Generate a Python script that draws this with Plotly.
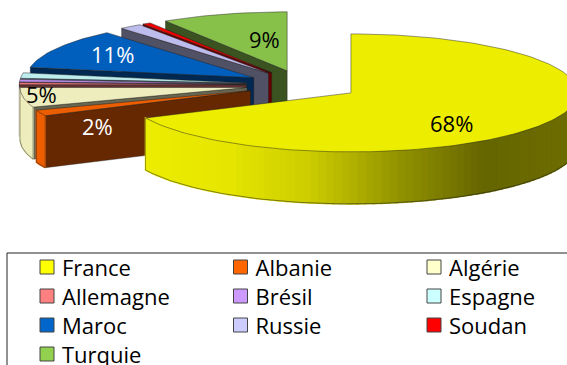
import numpy as np
import plotly.graph_objects as go

countries = ["France", "Albanie", "Algérie", "Allemagne", "Brésil", "Espagne", "Maroc", "Russie", "Soudan", "Turquie"]
shares = [68, 1.6, 5.4, 0.6, 0.7, 1.5, 11, 1.6, 0.6, 9]
labels = ["68%", "2%", "5%", "", "", "", "11%", "", "", "9%"]
colors = ["#FFFF00", "#FF6600", "#FFFFCC", "#FF8080", "#CC99FF", "#CCFFFF", "#0066CC", "#CCCCFF", "#FF0000", "#92D050"]
label_colors = ["black", "white", "black", "black", "black", "black", "white", "black", "black", "black"]

W, H = 567, 365
CX, CY, RX, RY, DEPTH, EXPLODE = 303, 85, 227, 59, 52, 0.25
LABEL_POS = {"France": (451, 123), "Albanie": (97, 126), "Algérie": (41, 94), "Maroc": (112, 54), "Turquie": (264, 39)}
OUTLINE = "rgba(30,30,30,0.65)"


def shade(hex_color, k):
    r, g, b = (int(hex_color[i:i + 2], 16) for i in (1, 3, 5))
    return f"rgb({int(r * k)},{int(g * k)},{int(b * k)})"


def rim_factor(angle):
    return float(np.interp(np.sin(angle), [-0.9, -0.53, -0.18, 0.2, 0.58, 1], [0.93, 0.9, 0.8, 0.58, 0.4, 0.43]))


fig = go.Figure()


def poly(xs, ys, fill, line=None, width=0.6, name=""):
    fig.add_trace(go.Scatter(x=list(xs) + [xs[0]], y=list(ys) + [ys[0]], mode="lines", fill="toself",
                             fillcolor=fill, line=dict(color=line or fill, width=width), name=name,
                             showlegend=False, hoverinfo="skip"))


total = sum(shares)
cum = np.cumsum([0] + shares) / total * 2 * np.pi
order = [9, 8, 7, 6, 5, 4, 3, 2, 1, 0]

for i in order:
    a0, a1 = cum[i], cum[i + 1]
    mid = (a0 + a1) / 2
    ax = CX + EXPLODE * RX * np.sin(mid)
    ay = CY - EXPLODE * RY * np.cos(mid)
    px = lambda a: ax + RX * np.sin(a)
    py = lambda a: ay - RY * np.cos(a)
    base = colors[i]
    wall = shade(base, 0.4)
    # radial walls facing the viewer
    if np.cos(a0 - np.pi / 2) < -1e-6:
        poly([ax, px(a0), px(a0), ax], [ay, py(a0), py(a0) + DEPTH, ay + DEPTH], wall, OUTLINE)
    if np.cos(a1 + np.pi / 2) < -1e-6:
        poly([ax, px(a1), px(a1), ax], [ay, py(a1), py(a1) + DEPTH, ay + DEPTH], wall, OUTLINE)
    # outer rim, only the front half of the ellipse
    lo, hi = max(a0, np.pi / 2), min(a1, 3 * np.pi / 2)
    if hi > lo:
        n = max(2, int((hi - lo) / np.radians(2.0)))
        edges = np.linspace(lo, hi, n + 1)
        for e0, e1 in zip(edges[:-1], edges[1:]):
            c = shade(base, rim_factor((e0 + e1) / 2))
            poly([px(e0), px(e1), px(e1), px(e0)], [py(e0), py(e1), py(e1) + DEPTH, py(e0) + DEPTH], c, c, 1.5)
        t = np.linspace(lo, hi, 120)
        fig.add_trace(go.Scatter(x=px(t), y=py(t) + DEPTH, mode="lines", line=dict(color=OUTLINE, width=0.8),
                                 showlegend=False, hoverinfo="skip"))
        for e in (lo, hi):
            fig.add_trace(go.Scatter(x=[px(e), px(e)], y=[py(e), py(e) + DEPTH], mode="lines",
                                     line=dict(color=OUTLINE, width=0.6), showlegend=False, hoverinfo="skip"))
    # top face
    t = np.linspace(a0, a1, max(3, int((a1 - a0) / np.radians(1.5))))
    poly([ax] + list(px(t)), [ay] + list(py(t)), shade(base, 0.93), OUTLINE, 0.7, countries[i])

annotations = [
    dict(x=LABEL_POS[c][0], y=LABEL_POS[c][1], xref="x", yref="y", text=t, showarrow=False,
         font=dict(family="Open Sans", size=22, color=lc))
    for c, t, lc in zip(countries, labels, label_colors) if t
]

# legend drawn on a column / row grid
COL_STEP, ROW_STEP, KEY_X0, KEY_Y0 = 193.5, 29.0, 47.0, 267.0
TEXT_DX, TEXT_DY = 15 / COL_STEP, 3.5 / ROW_STEP
for k, (c, col) in enumerate(zip(countries, colors)):
    fig.add_trace(go.Scatter(x=[k % 3], y=[k // 3], xaxis="x2", yaxis="y2", mode="markers",
                             marker=dict(symbol="square", size=14, color=col, line=dict(color="#444444", width=1)),
                             name=c, showlegend=False, hoverinfo="name"))
    fig.add_trace(go.Scatter(x=[k % 3 + TEXT_DX], y=[k // 3 + TEXT_DY], xaxis="x2", yaxis="y2", mode="text",
                             text=[c], textposition="middle right",
                             textfont=dict(family="Open Sans", size=22, color="black"),
                             cliponaxis=False, name=c, showlegend=False, hoverinfo="skip"))

hidden = dict(visible=False, showgrid=False, zeroline=False, domain=[0, 1])
fig.update_layout(
    width=W, height=H, margin=dict(l=0, r=0, t=0, b=0), paper_bgcolor="white", plot_bgcolor="white",
    showlegend=False, annotations=annotations,
    xaxis=dict(range=[0, W], **hidden), yaxis=dict(range=[H, 0], **hidden),
    xaxis2=dict(range=[-KEY_X0 / COL_STEP, (W - KEY_X0) / COL_STEP], overlaying="x", **hidden),
    yaxis2=dict(range=[(H - KEY_Y0) / ROW_STEP, -KEY_Y0 / ROW_STEP], overlaying="y", **hidden),
    shapes=[dict(type="rect", xref="x", yref="y", x0=7, x1=W + 20, y0=253, y1=H + 20,
                 line=dict(color="#222222", width=1))],
)
fig.write_html("out.html", config={"displayModeBar": False},
               post_script="document.body.style.margin='0';document.body.style.overflow='hidden';")
